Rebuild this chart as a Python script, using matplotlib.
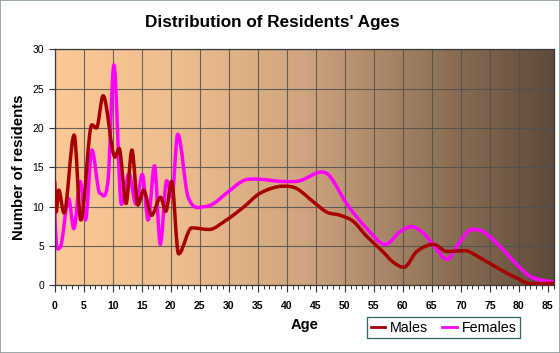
import numpy as np
import matplotlib
matplotlib.use("Agg")
import matplotlib.pyplot as plt
from matplotlib.path import Path
from matplotlib.patches import PathPatch, Rectangle
from matplotlib.colors import LinearSegmentedColormap
from matplotlib.lines import Line2D

plt.rcParams["font.family"] = ["Liberation Sans", "DejaVu Sans"]

# ---- data -----------------------------------------------------------------
male_age = [0, 0.25, 0.7, 1.6, 3.35, 4.5, 6.4, 7.2, 8.35, 10.4, 11.1, 12.3,
            13.3, 14.35, 15.3, 16.7, 18.25, 19.15, 20.15, 21.35, 23.6, 26.6,
            29.6, 32.5, 35.4, 39.4, 41.7, 44.6, 46.9, 49.2, 51.5, 53.8, 56.4,
            58.4, 60.2, 62.4, 65.3, 67.6, 70.7, 73.3, 76.8, 79.7, 82.0, 84.3, 86.0]
male_cnt = [13.2, 9.3, 12.1, 9.2, 19.1, 8.3, 20.4, 20.0, 24.1, 16.3, 17.4, 10.4,
            17.2, 10.2, 12.1, 8.9, 11.2, 9.4, 13.2, 4.0, 7.3, 7.1,
            8.3, 9.9, 11.7, 12.6, 12.3, 10.6, 9.3, 8.9, 8.1, 6.2, 4.4,
            2.9, 2.3, 4.3, 5.2, 4.3, 4.4, 3.5, 2.0, 0.9, 0.2, 0.2, 0.3]

female_age = [0, 0.3, 0.9, 2.4, 3.3, 4.4, 5.3, 6.4, 7.8, 9.2, 10.2, 11.5,
              12.8, 14.0, 15.1, 16.1, 17.2, 18.2, 19.3, 20.2, 21.2, 23.0, 25.9,
              27.4, 29.6, 32.5, 34.8, 39.4, 42.3, 46.0, 47.5, 50.3, 53.8, 57.0,
              59.5, 61.5, 63.6, 65.3, 67.6, 69.6, 71.9, 73.9, 76.8, 79.7, 82.0,
              84.3, 86.0]
female_cnt = [9.5, 5.2, 4.8, 11.0, 7.2, 13.2, 8.3, 17.2, 11.7, 13.4, 28.0, 10.3,
              14.2, 10.3, 14.1, 8.3, 15.2, 5.2, 13.3, 11.2, 19.2, 11.2, 10.0,
              10.4, 11.7, 13.3, 13.5, 13.2, 13.3, 14.4, 13.8, 10.4, 7.2, 5.2,
              6.8, 7.45, 6.6, 5.1, 3.3, 5.3, 7.1, 6.8, 4.9, 2.6, 1.1,
              0.6, 0.45]

MALE_C = "#a80000"
FEMALE_C = "#ff00ff"


def smooth_path(xs, ys):
    """Cubic Bezier path through the points (flat tangents at extrema)."""
    n = len(xs)
    m = []
    for i in range(n):
        if i == 0:
            m.append((ys[1] - ys[0]) / (xs[1] - xs[0]))
        elif i == n - 1:
            m.append((ys[-1] - ys[-2]) / (xs[-1] - xs[-2]))
        elif (ys[i] - ys[i - 1]) * (ys[i + 1] - ys[i]) <= 0:
            m.append(0.0)
        else:
            m.append((ys[i + 1] - ys[i - 1]) / (xs[i + 1] - xs[i - 1]))
    verts = [(xs[0], ys[0])]
    codes = [Path.MOVETO]
    for i in range(n - 1):
        h = xs[i + 1] - xs[i]
        verts += [(xs[i] + h / 3, ys[i] + m[i] * h / 3),
                  (xs[i + 1] - h / 3, ys[i + 1] - m[i + 1] * h / 3),
                  (xs[i + 1], ys[i + 1])]
        codes += [Path.CURVE4] * 3
    return Path(verts, codes)


fig = plt.figure(figsize=(5.6, 3.53), dpi=100)
ax = fig.add_axes([0.0977, 0.1918, 0.892, 0.6685])
ax.set_xlim(0, 86.1)
ax.set_ylim(0, 30)

# gradient background
cmap = LinearSegmentedColormap.from_list(
    "bg", [(0, "#fdc996"), (0.25, "#ecbd8e"), (0.5, "#cfa47e"),
           (0.75, "#94765a"), (1.0, "#5d4a3a")])
ax.imshow(np.linspace(0, 1, 256)[None, :], cmap=cmap, aspect="auto",
          extent=[0, 86.1, 0, 30], zorder=0)

ax.set_axisbelow(True)
ax.grid(True, color="#505050", lw=0.8, alpha=0.85)

for xs, ys, c in [(male_age, male_cnt, MALE_C), (female_age, female_cnt, FEMALE_C)]:
    ax.add_patch(PathPatch(smooth_path(xs, ys), fill=False, edgecolor=c,
                           lw=2.5, capstyle="round", joinstyle="round",
                           zorder=3 if c == MALE_C else 2, clip_on=True))

ax.set_xticks(np.arange(0, 86, 5))
ax.set_xticks(np.arange(0, 87, 1), minor=True)
ax.set_yticks(np.arange(0, 31, 5))
ax.tick_params(axis="x", which="major", length=5, width=0.8, labelsize=7.5,
               color="#333333", pad=6)
ax.tick_params(axis="x", which="minor", length=3, width=0.7, color="#333333")
ax.tick_params(axis="y", length=4, width=0.8, labelsize=7.5, color="#333333")
for lab in ax.get_xticklabels():
    lab.set_fontweight("bold")
for s in ax.spines.values():
    s.set_color("#3a3a3a")
    s.set_linewidth(0.9)

ax.set_xlabel("Age", fontsize=10.5, fontweight="bold", labelpad=5)
ax.set_ylabel("Number of residents", fontsize=10.8, fontweight="bold", labelpad=5)
fig.text(0.487, 0.935, "Distribution of Residents' Ages", ha="center",
         va="center", fontsize=12.3, fontweight="bold")

handles = [Line2D([], [], color=MALE_C, lw=2),
           Line2D([], [], color=FEMALE_C, lw=2)]
leg = fig.legend(handles, ["Males", "Females"], loc="center",
                 bbox_to_anchor=(0.792, 0.072), ncol=2, fontsize=10.3,
                 handlelength=1.0, handletextpad=0.35, columnspacing=1.0,
                 borderpad=0.25, fancybox=False, framealpha=1)
leg.get_frame().set_edgecolor("#336666")
leg.get_frame().set_linewidth(0.9)

fig.patches.append(Rectangle((0, 0), 1, 1, transform=fig.transFigure,
                             fill=False, edgecolor="#8a9a9a", lw=1.2))

fig.savefig("out.png", dpi=100)
